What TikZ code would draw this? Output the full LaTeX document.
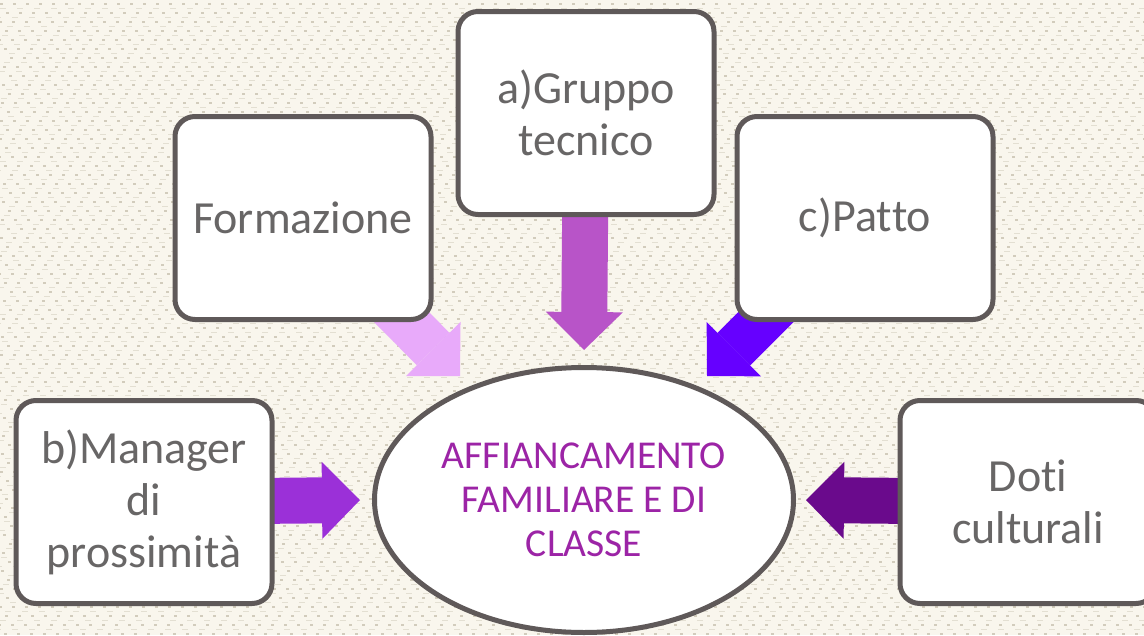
\documentclass[tikz,border=0pt]{standalone}
\usepackage{fontspec}
\setmainfont{Carlito}[Ligatures={NoCommon,NoRequired,NoContextual,NoRare}]
\usetikzlibrary{arrows.meta,shapes.geometric}

\definecolor{linen}{RGB}{249,246,237}
\definecolor{fleck}{RGB}{178,170,148}
\definecolor{boxline}{RGB}{95,89,89}
\definecolor{boxtext}{RGB}{104,102,102}
\definecolor{hubtext}{RGB}{156,36,166}
\definecolor{arrtop}{RGB}{184,84,200}
\definecolor{arrform}{RGB}{232,170,250}
\definecolor{arrpatto}{RGB}{102,0,255}
\definecolor{arrmanager}{RGB}{155,48,216}
\definecolor{arrdoti}{RGB}{106,10,140}

\pgfdeclarelayer{linenlayer}
\pgfdeclarelayer{arrowlayer}
\pgfsetlayers{linenlayer,arrowlayer,main}

\begin{document}
\begin{tikzpicture}[x=1pt,y=-1pt,
    box/.style={draw=boxline, line width=5pt, fill=white, rounded corners=20pt,
        minimum width=256pt, minimum height=203pt, inner sep=0pt,
        text=boxtext, align=center, font=\fontsize{46}{52}\selectfont},
    hub/.style={ellipse, draw=boxline, line width=5pt, fill=white,
        minimum width=419pt, minimum height=265pt, inner sep=0pt,
        text=hubtext, align=center, font=\fontsize{39.5}{44}\selectfont},
    blockarrow/.style={line width=46pt,
        -{Triangle[length=38pt,width=77pt,line width=0pt]}}]
    \useasboundingbox (0,0) rectangle (1144,635);
    \clip (0,0) rectangle (1144,635);

    % linen background
    \begin{pgfonlayer}{linenlayer}
    \fill[linen] (0,0) rectangle (1144,635);
    \foreach \r [evaluate=\r as \ph using {mod(\r*7,13)}] in {0,...,70}
        \draw[fleck, opacity=.55, line width=1.6pt,
            dash pattern=on 3pt off 10pt, dash phase=\ph pt]
            (0,{\r*9+4}) -- (1144,{\r*9+4});
    \foreach \r [evaluate=\r as \ph using {mod(\r*5,17)}] in {0,...,70}
        \draw[fleck, opacity=.3, line width=1pt,
            dash pattern=on 6pt off 11pt, dash phase=\ph pt]
            (0,{\r*9+8}) -- (1144,{\r*9+8});
    \end{pgfonlayer}

    % boxes
    \node[hub] (hub) at (584,500) {AFFIANCAMENTO\\FAMILIARE E DI\\CLASSE};
    \node[box] (gruppo) at (586,113) {a)Gruppo\\tecnico};
    \node[box] (form) at (303,218) {Formazione};
    \node[box] (patto) at (865,218) {c)Pat\kern0pt to};
    \node[box] (manager) at (144,502) {b)Manager\\di\\prossimità};
    \node[box] (doti) at (1028,502) {Dot\kern0pt i\\culturali};

    % tips of the arrows
    \coordinate (tipG) at (584,350);
    \coordinate (tipF) at (460,376);
    \coordinate (tipP) at (707,376);
    \coordinate (tipM) at (360,500);
    \coordinate (tipD) at (806,500);

    \begin{pgfonlayer}{arrowlayer}
    \draw[blockarrow, arrtop] (gruppo.center) -- (tipG);
    \draw[blockarrow, arrform] (form.center) -- (tipF);
    \draw[blockarrow, arrpatto] (patto.center) -- (tipP);
    \draw[blockarrow, arrmanager] (manager.center) -- (tipM);
    \draw[blockarrow, arrdoti] (doti.center) -- (tipD);
    \end{pgfonlayer}
\end{tikzpicture}
\end{document}
